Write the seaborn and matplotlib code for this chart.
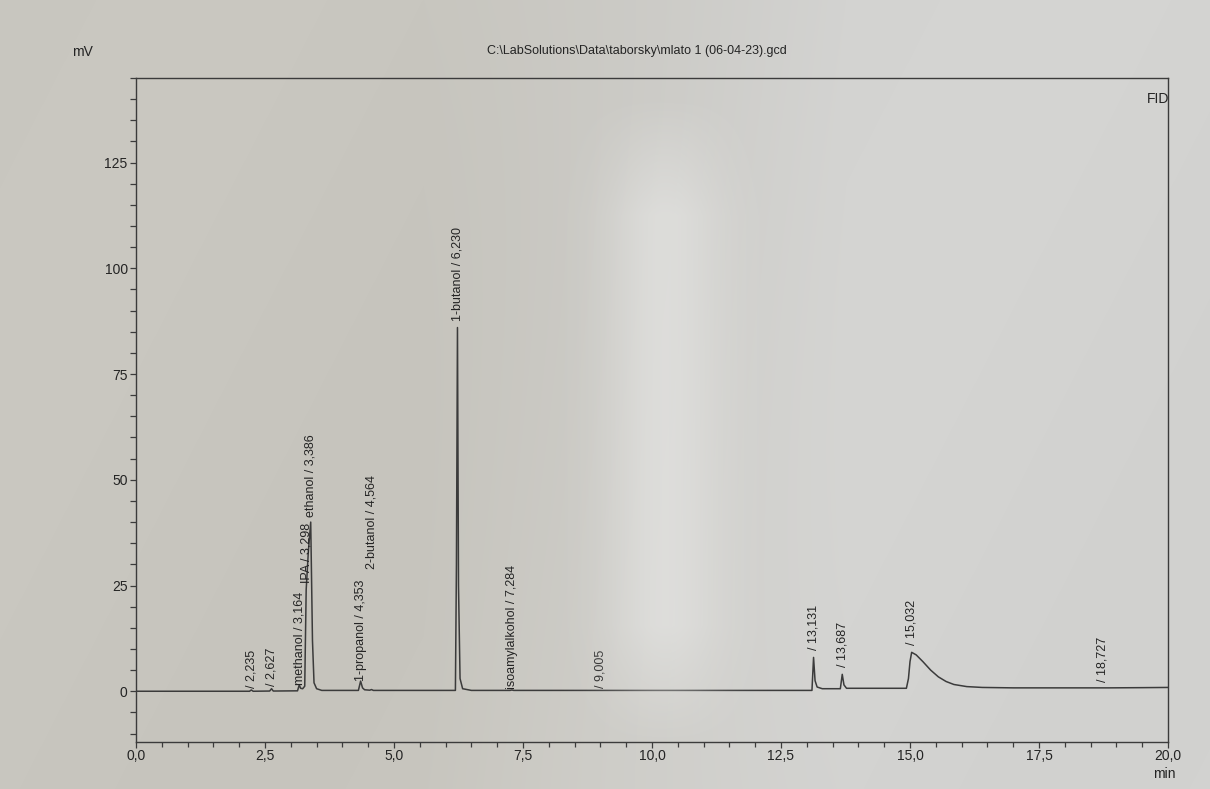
import numpy as np
import pandas as pd
import matplotlib
matplotlib.use("Agg")
import matplotlib.pyplot as plt
import seaborn as sns
from matplotlib.ticker import MultipleLocator, FuncFormatter

# --- chromatogram data -------------------------------------------------------
# Integrated peaks: retention time (min), apex signal (mV) and compound name
peak_rt = [2.235, 2.627, 3.164, 3.298, 3.386, 4.353, 4.564, 6.230,
           7.284, 9.005, 13.131, 13.687, 15.032, 18.727]
peak_top_mv = [0.3, 0.6, 1.5, 24.0, 40.0, 2.4, 0.4, 86.0,
               0.3, 0.2, 8.0, 4.0, 9.2, 0.8]
peak_name = ["", "", "methanol", "IPA", "ethanol", "1-propanol", "2-butanol",
             "1-butanol", "isoamylalkohol", "", "", "", "", ""]

# Detector trace between the peak apexes (baseline, flanks, tails)
trace_time_min = [0.0, 2.20, 2.27, 2.59, 2.66, 3.13, 3.19, 3.23, 3.27,
                  3.34, 3.42, 3.45, 3.50, 3.60, 4.31, 4.39, 4.43, 4.53,
                  4.60, 6.19, 6.21, 6.25, 6.28, 6.33, 6.50, 7.25, 7.32,
                  8.97, 9.04, 13.10, 13.16, 13.20, 13.30, 13.65, 13.72,
                  13.77, 14.93, 14.97, 15.00, 15.12, 15.25, 15.40, 15.55,
                  15.70, 15.85, 16.10, 16.40, 17.00, 18.60, 18.85, 19.50,
                  20.0]
trace_signal_mv = [0.0, 0.0, 0.0, 0.05, 0.05, 0.1, 0.7, 0.6, 1.2,
                   33.0, 12.0, 2.0, 0.6, 0.2, 0.2, 0.8, 0.35, 0.25,
                   0.2, 0.2, 30.0, 25.0, 3.0, 0.6, 0.2, 0.2, 0.2,
                   0.2, 0.2, 0.2, 2.5, 1.0, 0.6, 0.6, 1.5,
                   0.7, 0.7, 3.0, 7.0, 8.6, 7.0, 5.0, 3.4,
                   2.3, 1.6, 1.1, 0.9, 0.8, 0.8, 0.8, 0.85,
                   0.9]

# Extra lift of a label above its apex (mV) where the labels are stacked
label_lift_mv = [0.5, 0.7, 0.0, 1.5, 1.2, 0.0, 28.5, 1.5,
                 0.3, 0.5, 1.7, 1.7, 1.7, 1.3]

x_ticks = [0.0, 2.5, 5.0, 7.5, 10.0, 12.5, 15.0, 17.5, 20.0]
y_ticks = [0, 25, 50, 75, 100, 125]

title_text = r"C:\LabSolutions\Data\taborsky\mlato 1 (06-04-23).gcd"

# --- assemble the trace -------------------------------------------------------
trace = pd.DataFrame({
    "time": list(trace_time_min) + list(peak_rt),
    "signal": list(trace_signal_mv) + list(peak_top_mv),
}).sort_values("time").reset_index(drop=True)

# --- styling ------------------------------------------------------------------
sns.set_theme(style="ticks")
plt.rcParams["font.family"] = ["Liberation Sans", "DejaVu Sans"]

W, H = 1210, 789
fig = plt.figure(figsize=(W / 100, H / 100), dpi=100)

# paper background: slightly warmer/darker on the left, lighter on the right
xs = np.linspace(0, 1, W)
ys = np.linspace(0, 1, H)
X, Y = np.meshgrid(xs, ys)
left_col = np.array([200, 198, 191]) / 255
right_col = np.array([211, 211, 209]) / 255
mix = np.clip((X - 0.35) / 0.35, 0, 1)[..., None]
paper = left_col * (1 - mix) + right_col * mix
paper += (np.sin(X * 9.0 + Y * 3.0) * 0.006)[..., None]
bg = fig.add_axes([0, 0, 1, 1], zorder=0)
bg.imshow(np.clip(paper, 0, 1), aspect="auto", extent=[0, 1, 0, 1])
bg.set_axis_off()

ink = "#3b3b3b"
text_col = "#242424"
ax = fig.add_axes([136 / W, 1 - 742 / H, (1168 - 136) / W, (742 - 78) / H], zorder=1)
ax.patch.set_alpha(0)

sns.lineplot(data=trace, x="time", y="signal", ax=ax, color=ink,
             linewidth=1.1, estimator=None, sort=False)

ax.set_xlim(0, 20)
ax.set_ylim(-12, 145)
ax.set_xlabel("")
ax.set_ylabel("")

ax.xaxis.set_major_locator(plt.FixedLocator(x_ticks))
ax.xaxis.set_minor_locator(MultipleLocator(0.5))
ax.yaxis.set_major_locator(plt.FixedLocator(y_ticks))
ax.yaxis.set_minor_locator(MultipleLocator(5))
ax.xaxis.set_major_formatter(FuncFormatter(lambda v, p: f"{v:.1f}".replace(".", ",")))
ax.yaxis.set_major_formatter(FuncFormatter(lambda v, p: f"{v:.0f}"))

ax.tick_params(axis="both", which="both", direction="out", color=ink,
               labelcolor=text_col, labelsize=10, width=0.9)
ax.tick_params(axis="x", which="major", length=4.5, pad=0.5)
ax.tick_params(axis="x", which="minor", length=3.5)
ax.tick_params(axis="y", which="major", length=4.5, pad=1.5)
ax.tick_params(axis="y", which="minor", length=4.5)

for side in ["left", "right", "top", "bottom"]:
    ax.spines[side].set_visible(True)
    ax.spines[side].set_color(ink)
    ax.spines[side].set_linewidth(1.0)

# peak annotations, written bottom-to-top above each apex
for rt, top, name, lift in zip(peak_rt, peak_top_mv, peak_name, label_lift_mv):
    rt_txt = f"{rt:.3f}".replace(".", ",")
    label = f"{name} / {rt_txt}" if name else f"/ {rt_txt}"
    ax.text(rt, top + lift, label, rotation=90, ha="center", va="bottom",
            fontsize=9, color=text_col)

fig.text(1169 / W, 1 - 99 / H, "FID", ha="right", va="center",
         fontsize=10, color=text_col)
fig.text(1164 / W, 1 - 774 / H, "min", ha="center", va="center",
         fontsize=10, color=text_col)
fig.text(82 / W, 1 - 52 / H, "mV", ha="center", va="center", fontsize=10,
         color=text_col)
fig.text(637 / W, 1 - 51 / H, title_text, ha="center", va="center",
         fontsize=9, color=text_col)

# washed-out light streak across the middle of the sheet
px = np.arange(W)[None, :]
py = np.arange(H)[:, None]
streak = 0.72 * np.exp(-((px - 665) / 58.0) ** 2)
streak = streak * np.clip((py - 95) / 120.0, 0, 1) * np.clip((745 - py) / 120.0, 0, 1)
haze = np.zeros((H, W, 4))
haze[..., :3] = np.array([228, 228, 225]) / 255
haze[..., 3] = streak
ov = fig.add_axes([0, 0, 1, 1], zorder=2)
ov.imshow(haze, aspect="auto", extent=[0, 1, 0, 1])
ov.set_axis_off()

fig.savefig("out.png", dpi=100)
